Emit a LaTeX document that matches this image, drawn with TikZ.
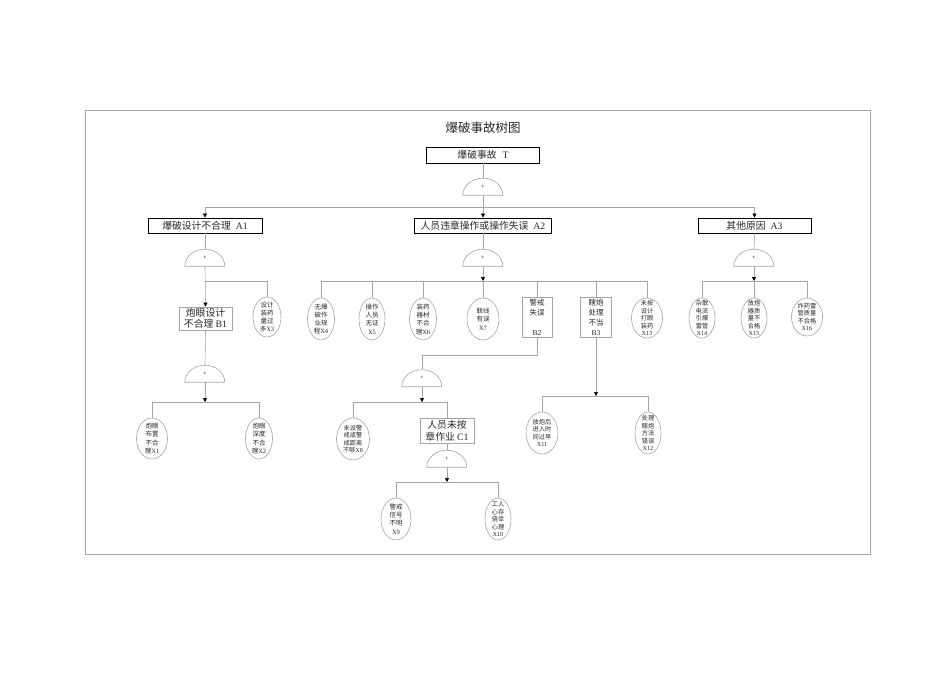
\documentclass[tikz,border=0pt]{standalone}
\usepackage{fontspec}
\setmainfont{Noto Sans CJK SC}
\newfontfamily\lat{Liberation Serif}
\usetikzlibrary{arrows.meta,shapes.geometric}
\definecolor{lncol}{RGB}{165,165,165}
\definecolor{txcol}{RGB}{40,40,40}
\tikzset{
 conn/.style={draw=lncol, line width=0.6pt},
 arr/.style={conn, -{Triangle[length=4pt,width=4pt,color=black]}},
 topbox/.style={draw=black, line width=0.9pt, inner sep=0pt, text=txcol, font=\fontsize{9.8}{11}\selectfont},
 midbox/.style={draw=lncol, line width=0.6pt, inner sep=0pt, align=center, text=txcol},
 ell/.style={draw=lncol, line width=0.6pt, ellipse, inner sep=0pt},
 etxt/.style={align=center, inner sep=0pt, text=txcol, font=\fontsize{6.5}{8.3}\selectfont},
 etxtf/.style={align=center, inner sep=0pt, text=txcol, font=\fontsize{6.2}{7.5}\selectfont},
 gate/.style={rectangle, inner sep=0pt, minimum width=40pt, minimum height=17pt, font=\fontsize{5.5}{5.5}\selectfont, text=darkgray},
}
\begin{document}
\begin{tikzpicture}[x=1pt,y=-1pt]
\useasboundingbox (0,0) rectangle (950,672);
\draw[lncol, line width=0.8pt] (85,110) rectangle (870,554);

\node[font=\fontsize{12.5}{15}\selectfont, text=txcol] (title) at (483,128) {爆破事故树图};

% top boxes
\node[topbox, minimum width=113pt, minimum height=16pt] (T) at (483,155) {爆破事故\hspace{0.6em}{\lat T}};
\node[topbox, minimum width=114pt, minimum height=15pt] (A1) at (205,225.5) {爆破设计不合理\hspace{0.5em}{\lat A1}};
\node[topbox, minimum width=137pt, minimum height=15pt] (A2) at (483,225.5) {人员违章操作或操作失误\hspace{0.5em}{\lat A2}};
\node[topbox, minimum width=113pt, minimum height=15pt] (A3) at (754.5,225.5) {其他原因\hspace{0.5em}{\lat A3}};

% gates
\node[gate] (g0) at (483,186.5) {+};
\node[gate] (gA1) at (205,257.5) {+};
\node[gate] (gA2) at (483,257.5) {+};
\node[gate] (gA3) at (754,257.5) {+};
\node[gate] (gB1) at (205,373.5) {+};
\node[gate] (gB2) at (422,378) {+};
\node[gate] (gC1) at (447,458.5) {+};
\foreach \g in {g0,gA1,gA2,gA3,gB1,gB2,gC1}
  \draw[conn] (\g.south east) -- (\g.south west) arc[start angle=180, end angle=0, x radius=20pt, y radius=17pt];

% intermediate boxes
\node[midbox, minimum width=53pt, minimum height=23pt, font=\fontsize{9.8}{11}\selectfont] (B1) at (205.5,318.5) {炮眼设计\\不合理 {\lat B1}};
\node[midbox, minimum width=30pt, minimum height=40pt, font=\fontsize{7.5}{10}\selectfont] (B2) at (537,317) {警戒\\失误\\\mbox{}\\{\lat B2}};
\node[midbox, minimum width=31pt, minimum height=40pt, font=\fontsize{7.5}{10}\selectfont] (B3) at (596,317) {瞎炮\\处理\\不当\\{\lat B3}};
\node[midbox, minimum width=54pt, minimum height=25pt, font=\fontsize{9.8}{12}\selectfont] (C1) at (447,430.5) {人员未按\\章作业 {\lat C1}};

% basic events
\node[ell, minimum width=31pt, minimum height=41pt] (x1) at (152,438.5) {};
\node[etxt] (x1t) at (x1) {炮眼\\布置\\不合\\理{\lat X1}};
\node[ell, minimum width=27pt, minimum height=41pt] (x2) at (259,438.5) {};
\node[etxt] (x2t) at (x2) {炮眼\\深度\\不合\\理{\lat X2}};
\node[ell, minimum width=28pt, minimum height=40pt] (x3) at (267,317) {};
\node[etxt] (x3t) at (x3) {设计\\装药\\量过\\多{\lat X3}};
\node[ell, minimum width=27pt, minimum height=42pt] (x4) at (321,319) {};
\node[etxt] (x4t) at (x4) {无爆\\破作\\业规\\程{\lat X4}};
\node[ell, minimum width=26pt, minimum height=42pt] (x5) at (372,319) {};
\node[etxt] (x5t) at (x5) {操作\\人员\\无证\\{\lat X5}};
\node[ell, minimum width=27pt, minimum height=42pt] (x6) at (423,319) {};
\node[etxt] (x6t) at (x6) {装药\\器材\\不合\\理{\lat X6}};
\node[ell, minimum width=32pt, minimum height=42pt] (x7) at (483,319) {};
\node[etxt] (x7t) at (x7) {联线\\有误\\{\lat X7}};
\node[ell, minimum width=31pt, minimum height=40pt] (x13) at (647,318) {};
\node[etxtf] (x13t) at (x13) {未按\\设计\\打眼\\装药\\{\lat X13}};
\node[ell, minimum width=26pt, minimum height=40pt] (x14) at (702,318) {};
\node[etxtf] (x14t) at (x14) {杂散\\电流\\引爆\\雷管\\{\lat X14}};
\node[ell, minimum width=26pt, minimum height=40pt] (x15) at (754,318) {};
\node[etxtf] (x15t) at (x15) {放炮\\器质\\量不\\合格\\{\lat X15}};
\node[ell, minimum width=31pt, minimum height=38pt] (x16) at (807,317) {};
\node[etxtf] (x16t) at (x16) {炸药雷\\管质量\\不合格\\{\lat X16}};
\node[ell, minimum width=33pt, minimum height=42pt] (x8) at (353,439) {};
\node[etxtf] (x8t) at (x8) {未设警\\戒或警\\戒距离\\不够{\lat X8}};
\node[ell, minimum width=30pt, minimum height=42pt] (x9) at (396,519) {};
\node[etxt] (x9t) at (x9) {警戒\\信号\\不明\\{\lat X9}};
\node[ell, minimum width=26pt, minimum height=42pt] (x10) at (498,519) {};
\node[etxtf] (x10t) at (x10) {工人\\心存\\侥幸\\心理\\{\lat X10}};
\node[ell, minimum width=32pt, minimum height=42pt] (x11) at (542,433) {};
\node[etxtf] (x11t) at (x11) {放炮后\\进入时\\间过早\\{\lat X11}};
\node[ell, minimum width=26pt, minimum height=42pt] (x12) at (648,433) {};
\node[etxtf] (x12t) at (x12) {处理\\瞎炮\\方法\\错误\\{\lat X12}};

% top level connections
\coordinate (bus0) at (483,207);
\draw[conn] (T.south) -- (g0.north);
\draw[conn] (g0.south) -- (bus0);
\draw[conn] (A1.north |- bus0) -- (A3.north |- bus0);
\draw[arr] (A1.north |- bus0) -- (A1.north);
\draw[arr] (bus0) -- (A2.north);
\draw[arr] (A3.north |- bus0) -- (A3.north);

% A1
\coordinate (busA1) at (205,281);
\draw[conn] (A1.south) -- (gA1.north);
\draw[conn] (busA1) -- (x3.north |- busA1) -- (x3.north);
\draw[arr] (gA1.south) -- (B1.north);

% B1
\coordinate (busB1) at (205,402);
\draw[conn] (B1.south) -- (gB1.north);
\draw[arr] (gB1.south) -- (busB1);
\draw[conn] (x1.north) -- (x1.north |- busB1) -- (x2.north |- busB1) -- (x2.north);

% A2
\coordinate (busA2) at (483,281);
\draw[conn] (A2.south) -- (gA2.north);
\draw[arr] (gA2.south) -- (busA2);
\draw[conn] (x4.north) -- (x4.north |- busA2) -- (x13.north |- busA2) -- (x13.north);
\foreach \n in {x5,x6,x7,B2,B3} \draw[conn] (\n.north |- busA2) -- (\n.north);

% B2
\coordinate (kB2) at (537,355);
\coordinate (busB2) at (422,402);
\draw[conn] (B2.south) -- (kB2) -- (gB2.north |- kB2) -- (gB2.north);
\draw[arr] (gB2.south) -- (busB2);
\draw[conn] (x8.north) -- (x8.north |- busB2) -- (C1.north |- busB2) -- (C1.north);

% C1
\coordinate (busC1) at (447,482);
\draw[conn] (C1.south) -- (gC1.north);
\draw[arr] (gC1.south) -- (busC1);
\draw[conn] (x9.north) -- (x9.north |- busC1) -- (x10.north |- busC1) -- (x10.north);

% B3
\coordinate (busB3) at (596,396);
\draw[arr] (B3.south) -- (busB3);
\draw[conn] (x11.north) -- (x11.north |- busB3) -- (x12.north |- busB3) -- (x12.north);

% A3
\coordinate (busA3) at (754,281);
\draw[conn] (A3.south) -- (gA3.north);
\draw[arr] (gA3.south) -- (busA3);
\draw[conn] (x14.north) -- (x14.north |- busA3) -- (x16.north |- busA3) -- (x16.north);
\draw[conn] (busA3) -- (x15.north);
\end{tikzpicture}
\end{document}
